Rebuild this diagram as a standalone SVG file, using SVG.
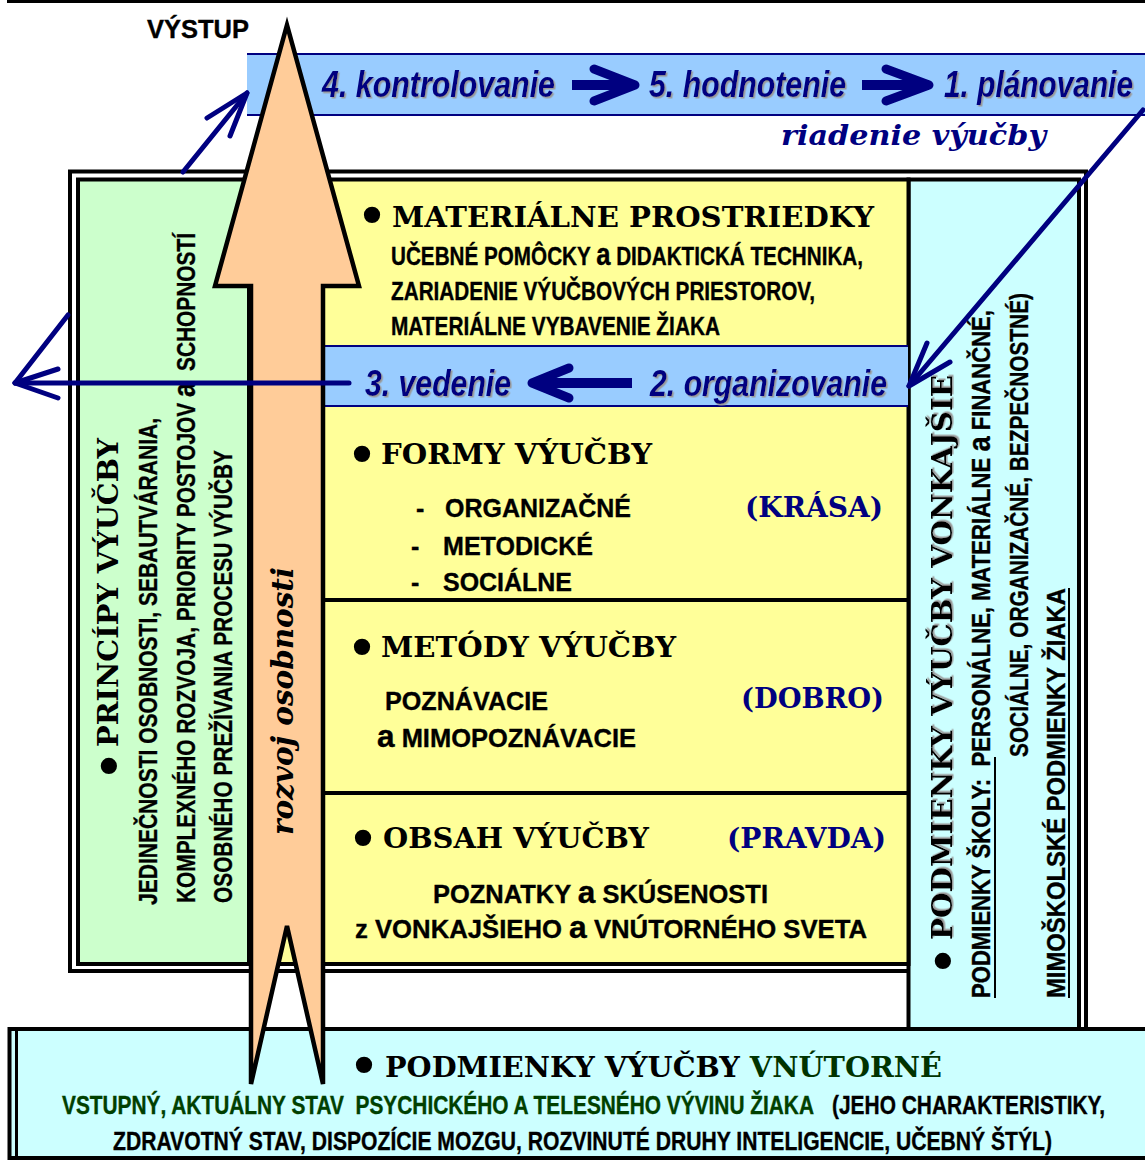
<svg xmlns="http://www.w3.org/2000/svg" width="1145" height="1160" viewBox="0 0 1145 1160">
<defs>
<style>
.hs{font-family:"DejaVu Serif","Liberation Serif",serif;font-weight:bold;font-size:27px;fill:#000}
.sn{font-family:"Liberation Sans",Arial,sans-serif;font-weight:bold;font-size:25px;fill:#000;stroke:#000;stroke-width:0.35}
.big{font-size:31px}
.bl{font-family:"DejaVu Serif","Liberation Serif",serif;font-size:56px;fill:#000}
.step{font-family:"Liberation Sans",Arial,sans-serif;font-weight:bold;font-style:italic;font-size:37px;fill:#000080;filter:url(#sh)}
.si{font-family:"DejaVu Serif","Liberation Serif",serif;font-weight:bold;font-style:italic}
.nv{fill:#000080}
.gr{fill:#004000;stroke:#004000}
.ln{stroke:#000;stroke-width:4;fill:none}
.box{stroke:#000;stroke-width:4}
.con{stroke:#000080;fill:none;stroke-linecap:round;stroke-linejoin:round}
.thin{stroke-width:5}
.thick{stroke-width:10;stroke-linejoin:miter;stroke-linecap:butt}
</style>
<filter id="sh" x="-5%" y="-20%" width="110%" height="140%">
<feDropShadow dx="1.5" dy="1.5" stdDeviation="0" flood-color="#9a9a9a"/>
</filter>
</defs>

<line x1="7" y1="1.5" x2="1145" y2="1.5" stroke="#000" stroke-width="3"/>

<g id="frame">
<path d="M909,971 H70 V171.5 H1086 V1029" fill="#fff" stroke="#000" stroke-width="4"/>
</g>

<g id="podmienky-vonkajsie">
<rect x="908.5" y="179.5" width="170.5" height="850" fill="#CCFFFF" class="box"/>
<text class="bl" transform="translate(963.6,977.4) rotate(-90)">•</text>
<text class="hs" font-size="28" style="filter:url(#sh)" transform="translate(952,940) rotate(-90)" textLength="565" lengthAdjust="spacingAndGlyphs">PODMIENKY VÝUČBY VONKAJŠIE</text>
<text class="sn" font-size="24" transform="translate(990,998) rotate(-90)" textLength="688" lengthAdjust="spacingAndGlyphs">PODMIENKY ŠKOLY:&#160; PERSONÁLNE, MATERIÁLNE <tspan class="big">a</tspan> FINANČNÉ,</text>
<text class="sn" font-size="24" transform="translate(1028,757) rotate(-90)" textLength="464" lengthAdjust="spacingAndGlyphs">SOCIÁLNE, ORGANIZAČNÉ, BEZPEČNOSTNÉ)</text>
<text class="sn" font-size="24" transform="translate(1065,998) rotate(-90)" textLength="410" lengthAdjust="spacingAndGlyphs">MIMOŠKOLSKÉ PODMIENKY ŽIAKA</text>
<line x1="995" y1="998" x2="995" y2="757" stroke="#000" stroke-width="2"/>
<line x1="1069" y1="998" x2="1069" y2="588" stroke="#000" stroke-width="2"/>
</g>

<g id="principy">
<rect x="78" y="179.5" width="171" height="784.5" fill="#CCFFCC" class="box"/>
<text class="bl" transform="translate(129.6,782.4) rotate(-90)">•</text>
<text class="hs" font-size="28" transform="translate(118,747) rotate(-90)" textLength="309" lengthAdjust="spacingAndGlyphs">PRINCÍPY VÝUČBY</text>
<text class="sn" font-size="24" transform="translate(157,905) rotate(-90)" textLength="487" lengthAdjust="spacingAndGlyphs">JEDINEČNOSTI OSOBNOSTI, SEBAUTVÁRANIA,</text>
<text class="sn" font-size="24" transform="translate(195,903) rotate(-90)" textLength="670" lengthAdjust="spacingAndGlyphs">KOMPLEXNÉHO ROZVOJA, PRIORITY POSTOJOV <tspan class="big">a</tspan>&#160; SCHOPNOSTÍ</text>
<text class="sn" font-size="24" transform="translate(232,903) rotate(-90)" textLength="453" lengthAdjust="spacingAndGlyphs">OSOBNÉHO PREŽÍVANIA PROCESU VÝUČBY</text>
</g>

<g id="stlpec">
<rect x="249" y="179.5" width="659.5" height="784.5" fill="#FFFF99" class="box"/>
<line x1="323" y1="600" x2="908.5" y2="600" class="ln"/>
<line x1="323" y1="793" x2="908.5" y2="793" class="ln"/>
</g>

<g id="materialne-prostriedky">
<text class="bl" x="355.6" y="235.6">•</text>
<text class="hs" font-size="26" x="392" y="227" textLength="482" lengthAdjust="spacingAndGlyphs">MATERIÁLNE PROSTRIEDKY</text>
<text class="sn" font-size="23" x="391" y="265" textLength="472" lengthAdjust="spacingAndGlyphs">UČEBNÉ POMÔCKY <tspan class="big" font-size="28">a</tspan> DIDAKTICKÁ TECHNIKA,</text>
<text class="sn" font-size="23" x="391" y="300" textLength="424" lengthAdjust="spacingAndGlyphs">ZARIADENIE VÝUČBOVÝCH PRIESTOROV,</text>
<text class="sn" font-size="23" x="391" y="335" textLength="329" lengthAdjust="spacingAndGlyphs">MATERIÁLNE VYBAVENIE ŽIAKA</text>
</g>

<g id="formy">
<text class="bl" x="345.6" y="474.6">•</text>
<text class="hs" x="381" y="464" textLength="271" lengthAdjust="spacingAndGlyphs">FORMY VÝUČBY</text>
<text class="sn" x="416" y="517">-</text>
<text class="sn" x="445" y="517" textLength="186" lengthAdjust="spacingAndGlyphs">ORGANIZAČNÉ</text>
<text class="hs nv" x="745" y="517" textLength="138" lengthAdjust="spacingAndGlyphs">(KRÁSA)</text>
<text class="sn" x="411" y="555">-</text>
<text class="sn" x="443" y="555" textLength="150" lengthAdjust="spacingAndGlyphs">METODICKÉ</text>
<text class="sn" x="411" y="591">-</text>
<text class="sn" x="443" y="591" textLength="129" lengthAdjust="spacingAndGlyphs">SOCIÁLNE</text>
</g>

<g id="metody">
<text class="bl" x="345.6" y="667.6">•</text>
<text class="hs" x="381" y="657" textLength="295" lengthAdjust="spacingAndGlyphs">METÓDY VÝUČBY</text>
<text class="sn" x="385" y="710" textLength="163" lengthAdjust="spacingAndGlyphs">POZNÁVACIE</text>
<text class="hs nv" x="741" y="708" textLength="143" lengthAdjust="spacingAndGlyphs">(DOBRO)</text>
<text class="sn" x="377" y="747" textLength="259" lengthAdjust="spacingAndGlyphs"><tspan class="big">a</tspan> MIMOPOZNÁVACIE</text>
</g>

<g id="obsah">
<text class="bl" x="346.6" y="858.6">•</text>
<text class="hs" x="383" y="848" textLength="266" lengthAdjust="spacingAndGlyphs">OBSAH VÝUČBY</text>
<text class="hs nv" x="727" y="848" textLength="159" lengthAdjust="spacingAndGlyphs">(PRAVDA)</text>
<text class="sn" x="433" y="903" textLength="335" lengthAdjust="spacingAndGlyphs">POZNATKY <tspan class="big">a</tspan> SKÚSENOSTI</text>
<text class="sn" x="355" y="938" textLength="512" lengthAdjust="spacingAndGlyphs">z VONKAJŠIEHO <tspan class="big">a</tspan> VNÚTORNÉHO SVETA</text>
</g>

<g id="podmienky-vnutorne">
<rect x="9.5" y="1029" width="1135.5" height="129" fill="#CCFFFF"/>
<path d="M1145,1029 H9.5 V1158 H1145" fill="none" stroke="#000" stroke-width="4"/>
<line x1="16.5" y1="1031" x2="16.5" y2="1156" stroke="#000" stroke-width="3"/>
<text class="bl" x="347.6" y="1085.6">•</text>
<text class="hs" font-size="28" x="385" y="1077" textLength="557" lengthAdjust="spacingAndGlyphs">PODMIENKY VÝUČBY <tspan fill="#003300">VNÚTORNÉ</tspan></text>
<text class="sn gr" x="62" y="1114" textLength="752" lengthAdjust="spacingAndGlyphs">VSTUPNÝ, AKTUÁLNY STAV&#160; PSYCHICKÉHO A TELESNÉHO VÝVINU ŽIAKA</text>
<text class="sn" x="832" y="1114" textLength="273" lengthAdjust="spacingAndGlyphs">(JEHO CHARAKTERISTIKY,</text>
<text class="sn" x="113" y="1150" textLength="939" lengthAdjust="spacingAndGlyphs">ZDRAVOTNÝ STAV, DISPOZÍCIE MOZGU, ROZVINUTÉ DRUHY INTELIGENCIE, UČEBNÝ ŠTÝL)</text>
</g>

<g id="riadenie-vyucby">
<rect x="247" y="54" width="898" height="61" fill="#99CCFF"/>
<line x1="247" y1="54" x2="1145" y2="54" stroke="#000080" stroke-width="2"/>
<line x1="247" y1="115" x2="1145" y2="115" stroke="#000080" stroke-width="2"/>
<text class="step" x="322" y="97" textLength="233" lengthAdjust="spacingAndGlyphs">4. kontrolovanie</text>
<text class="step" x="649" y="97" textLength="197" lengthAdjust="spacingAndGlyphs">5. hodnotenie</text>
<text class="step" x="944" y="97" textLength="189" lengthAdjust="spacingAndGlyphs">1. plánovanie</text>
<text class="si nv" font-size="27" x="781" y="145" textLength="265" lengthAdjust="spacingAndGlyphs">riadenie výučby</text>
</g>

<g id="riadenie-stred">
<rect x="325" y="346" width="583" height="60" fill="#99CCFF"/>
<line x1="325" y1="346" x2="908" y2="346" stroke="#000080" stroke-width="2"/>
<line x1="325" y1="406" x2="908" y2="406" stroke="#000080" stroke-width="2"/>
<text class="step" x="365" y="396" textLength="146" lengthAdjust="spacingAndGlyphs">3. vedenie</text>
<text class="step" x="650" y="396" textLength="237" lengthAdjust="spacingAndGlyphs">2. organizovanie</text>
</g>

<g id="rozvoj-osobnosti">
<path d="M287,25 L359,286 L323,286 L323,1084 L287,926 L251,1084 L251,286 L215,286 Z" fill="#FFCC99" stroke="#000" stroke-width="4.5" stroke-linejoin="miter"/>
<text class="si" font-size="30" fill="#000" transform="translate(293,835) rotate(-90)" textLength="268" lengthAdjust="spacingAndGlyphs">rozvoj osobnosti</text>
</g>

<g id="vystup">
<text class="sn" font-size="27" x="147" y="38" textLength="102" lengthAdjust="spacingAndGlyphs">VÝSTUP</text>
</g>

<g id="connectors">
<path class="con thick" d="M572,85 H628"/>
<polyline class="con" stroke-width="9" points="594,69 635,85 594,101"/>
<path class="con thick" d="M862,85 H922"/>
<polyline class="con" stroke-width="9" points="886,69 929,85 886,101"/>
<path class="con thick" d="M632,383 H538"/>
<polyline class="con" stroke-width="9" points="569,368 532,383 569,398"/>
<path class="con thin" d="M349,383 H15"/>
<polyline class="con thin" points="58,369 15,383 58,398"/>
<path class="con thin" d="M15,383 L68,315"/>
<path class="con thin" d="M183,172 L247,93"/>
<polyline class="con thin" points="207,118 247,93 230,136"/>
<path class="con thin" d="M1143,110 L909,386"/>
<polyline class="con thin" points="927,343 909,386 950,362"/>
</g>
</svg>
